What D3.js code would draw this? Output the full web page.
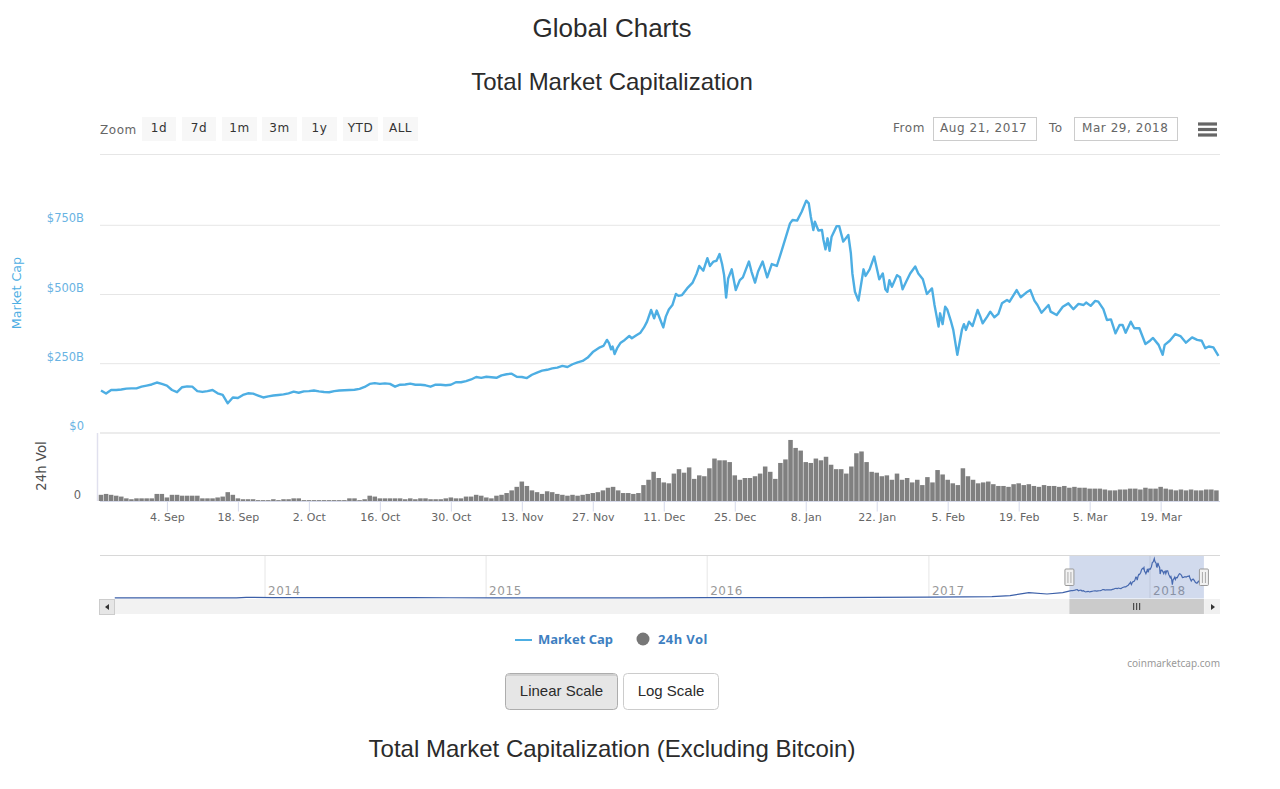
<!DOCTYPE html>
<html>
<head>
<meta charset="utf-8">
<title>Global Charts</title>
<script src="https://cdn.jsdelivr.net/npm/d3@7"></script>
<style>
  html, body { margin: 0; padding: 0; background: #fff; overflow: hidden; }
  text { font-family: "DejaVu Sans", sans-serif; }
  .head { font-family: "Liberation Sans", Arial, sans-serif; fill: #2b2b2b; text-anchor: middle; }
  .spaced { letter-spacing: 0.55px; }
</style>
</head>
<body>
<svg id="page" width="1280" height="789"></svg>
<script>
// market cap in $B, one value per day starting 22 Aug 2017 (calm part, up to 26 Nov)
const capDaily = [153,142,155,155,157,160,161,161,167,171,175,182,177,171,155,147,165,168,167,151,
  148,151,155,143,137,107,128,126,137,143,142,135,128,132,135,137,139,143,149,145,
  150,151,153,150,148,147,151,153,154,155,156,159,166,177,180,177,179,177,167,174,
  175,178,174,174,172,167,174,174,172,174,183,183,187,193,202,199,203,201,199,208,
  212,214,203,202,198,210,218,225,228,233,236,242,238,248,255,260,272,292];

// after that the line gets jumpy, so turning points only: days since 22 Aug and $B
const capDays = [98.4,99.1,99.8,100.2,100.6,100.9,101.3,101.8,102.5,103.3,104.2,104.7,105.6,106.4,107.1,107.7,108.5,109.1,109.6,110.2,
  110.9,111.4,112,112.7,113.4,113.9,114.6,115.6,116.7,117.5,118,118.8,119.6,120.1,120.8,121.4,122,122.5,122.9,123.3,
  123.7,124.4,125.2,126,126.6,127.2,127.8,128.3,129,129.6,130.5,131.4,132.3,133.3,134.3,135.1,135.9,136.4,137.3,138.2,
  139.1,139.6,140,140.5,140.8,141.5,142.2,142.5,142.9,143.3,143.7,144.1,145.1,145.6,146.4,147.4,147.9,148.2,148.7,149.4,
  150.4,150.8,151.6,152.5,153.5,154.2,154.7,155.1,155.5,156,157,157.6,158.1,158.8,159.6,160.6,161.2,162.1,162.9,163.9,
  164.4,165.2,165.5,166,166.5,166.9,167.6,168.1,168.9,169.8,170.2,170.6,171.2,171.9,172.9,173.4,173.9,174.8,175.4,176.2,
  177,177.7,178.7,179.2,180.6,181.4,182.5,183.3,184.1,184.7,185.5,186.9,187.3,188.5,189.7,190.8,191.8,192.8,193.8,194.3,
  195.2,196.1,196.7,197.7,198.4,199.2,200.1,200.9,201.5,202.1,203.1,203.8,204.8,206,206.9,207.5,208.6,209.4,209.8,210.8,
  211.9,212.9,214,215.2,216.2,217.1,217.8,218.5,219.4,220.4];
const capValues = [309,314,336,324,302,312,285,306,326,336,350,342,353,362,381,402,444,414,442,414,
  381,420,446,462,502,495,498,522,543,576,603,586,631,603,619,622,646,610,570,489,
  558,591,516,552,562,591,619,583,543,583,619,562,610,603,661,709,757,769,767,799,
  839,829,781,733,763,731,733,697,663,703,658,709,747,747,691,715,649,576,510,478,
  591,567,591,637,555,576,519,510,552,528,570,562,519,546,576,601,576,555,502,522,
  462,384,432,393,456,446,406,372,282,372,393,372,402,386,444,422,396,420,438,418,
  430,468,480,474,516,490,507,516,478,462,434,462,438,426,456,468,447,466,462,471,
  459,477,474,447,408,410,360,390,390,362,402,378,378,321,333,343,318,282,318,333,
  357,350,326,345,336,333,306,312,309,278];

// 24h volume in $B, one bar per day starting 22 Aug 2017
const volValues = [7,8,7,6,5,3,2,3,3,3,3,8,8,4,7,7,6,6,6,6,
  3,3,3,4,5,10,7,3,2,2,2,1,1,1,2,1,2,2,3,3,
  1,1,1,1,1,1,1,1,1,3,3,1,2,6,5,3,3,3,3,3,
  2,3,2,3,3,2,2,2,3,4,3,3,5,5,7,6,4,3,6,7,
  9,12,16,22,17,12,10,8,11,10,8,7,6,7,6,7,8,9,10,12,
  15,16,12,9,9,8,9,18,24,33,26,21,20,31,36,32,38,25,29,28,
  37,48,46,46,44,29,24,26,26,28,31,39,33,25,43,47,69,60,57,44,
  43,48,46,50,41,36,36,31,39,54,56,44,33,32,28,29,24,31,24,26,
  21,24,18,27,21,35,30,24,20,18,37,28,24,20,21,22,19,17,17,16,
  19,20,18,19,17,16,18,17,17,16,17,15,16,15,15,14,14,14,13,12,
  12,13,13,14,14,13,15,14,14,16,14,13,12,13,12,13,12,12,13,13,12];

// whole history for the navigator, before the selected range
const navEarlyDates = ["2013-04-28","2013-06-15","2013-08-15","2013-10-15","2013-11-15","2013-12-01","2014-01-15","2014-03-01","2014-05-01","2014-07-01","2014-09-01","2014-11-01",
  "2015-01-15","2015-04-01","2015-07-01","2015-10-01","2016-01-01","2016-04-01","2016-07-01","2016-10-01","2017-01-01","2017-03-01","2017-04-15","2017-05-15","2017-06-15","2017-07-15","2017-08-10"];
const navEarlyValues = [1.5,1.2,1.4,2,4,12,10,9,6,8,7,5,4,4,4,4,7,8,10,12,18,25,30,50,114,85,115];

const yearTicks = ["2014","2015","2016","2017","2018"];
const dateTicks = ["2017-09-04","2017-09-18","2017-10-02","2017-10-16","2017-10-30","2017-11-13","2017-11-27","2017-12-11","2017-12-25","2018-01-08","2018-01-22","2018-02-05","2018-02-19","2018-03-05","2018-03-19"];
const capTicks = [0,250,500,750];
const zoomButtons = [["1d",142,34],["7d",182,34],["1m",222,35],["3m",262,35],["1y",302,35],["YTD",343,35],["ALL",383,35]];

const capColor = "#4daee3", volColor = "#808080", gridColor = "#e6e6e6";
const startDay = Date.UTC(2017,7,22), dayMs = 864e5;
const dayToDate = d => new Date(startDay + d*dayMs);

const capSeries = capDaily.map((v,i) => ({date: dayToDate(i), value: v}))
  .concat(capDays.map((d,i) => ({date: dayToDate(d), value: capValues[i]})));
const volSeries = volValues.map((v,i) => ({date: dayToDate(i), value: v}));
const navSeries = navEarlyDates.map((d,i) => ({date: new Date(d), value: navEarlyValues[i]}))
  .concat(capSeries.filter((d,i) => i%2 == 0));

const svg = d3.select("#page");

// scales
const x = d3.scaleUtc().domain([new Date(startDay), new Date(Date.UTC(2018,2,30,17))]).range([101,1220]);
const yCap = d3.scaleLinear().domain([0,750]).range([432.9,225.3]);
const yVol = d3.scaleLinear().domain([0,78]).range([501,432]);
const xNav = d3.scaleUtc().domain([new Date("2014-01-01"), new Date("2018-01-01")]).range([265,1150]);
const yNav = d3.scaleLinear().domain([0,840]).range([598,558.5]);

// titles
svg.append("text").attr("class","head").attr("x",612).attr("y",37).attr("font-size",26).text("Global Charts");
svg.append("text").attr("class","head").attr("x",612).attr("y",90).attr("font-size",24).text("Total Market Capitalization");
svg.append("text").attr("class","head").attr("x",612).attr("y",757).attr("font-size",24).text("Total Market Capitalization (Excluding Bitcoin)");

// range selector
svg.append("text").attr("class","spaced").attr("x",100).attr("y",134).attr("font-size",12).attr("fill","#666").text("Zoom");
zoomButtons.forEach(b => {
  svg.append("rect").attr("x",b[1]).attr("y",117).attr("width",b[2]).attr("height",24).attr("fill","#f7f7f7");
  svg.append("text").attr("class","spaced").attr("x",b[1]+b[2]/2).attr("y",132).attr("text-anchor","middle").attr("font-size",12).attr("fill","#333").text(b[0]);
});
svg.append("text").attr("class","spaced").attr("x",893).attr("y",132).attr("font-size",12).attr("fill","#666").text("From");
svg.append("rect").attr("x",933.5).attr("y",117.5).attr("width",103).attr("height",23).attr("fill","#fff").attr("stroke","#ccc");
svg.append("text").attr("class","spaced").attr("x",940).attr("y",132).attr("font-size",12).attr("fill","#666").text("Aug 21, 2017");
svg.append("text").attr("class","spaced").attr("x",1049).attr("y",132).attr("font-size",12).attr("fill","#666").text("To");
svg.append("rect").attr("x",1074.5).attr("y",117.5).attr("width",103).attr("height",23).attr("fill","#fff").attr("stroke","#ccc");
svg.append("text").attr("class","spaced").attr("x",1082).attr("y",132).attr("font-size",12).attr("fill","#666").text("Mar 29, 2018");
[124,129.5,135].forEach(y => {
  svg.append("line").attr("x1",1198).attr("x2",1217).attr("y1",y).attr("y2",y)
    .attr("stroke","#666").attr("stroke-width",3.2);
});

// grid
svg.append("line").attr("x1",100).attr("x2",1220).attr("y1",154.5).attr("y2",154.5).attr("stroke",gridColor);
capTicks.forEach(t => {
  svg.append("line").attr("x1",100).attr("x2",1220).attr("y1",yCap(t)).attr("y2",yCap(t)).attr("stroke",gridColor).attr("stroke-width",t == 0 ? 1.5 : 1);
});

// y axis labels
const capAxis = svg.append("g").attr("transform","translate(84,0)")
  .call(d3.axisLeft(yCap).tickValues(capTicks).tickSize(0).tickFormat(d => d == 0 ? "$0" : "$"+d+"B"));
capAxis.select(".domain").remove();
capAxis.selectAll("text").attr("x",0).attr("dy",-3.5).attr("font-size",11.5).attr("fill","#69b3e3").style("font-family",'"DejaVu Sans"');
const volAxis = svg.append("g").attr("transform","translate(81,0)")
  .call(d3.axisLeft(yVol).tickValues([0]).tickSize(0));
volAxis.select(".domain").remove();
volAxis.selectAll("text").attr("x",0).attr("dy",-3).attr("font-size",11.5).attr("fill","#666").style("font-family",'"DejaVu Sans"');

svg.append("text").attr("transform","translate(20.5,293) rotate(-90)").attr("text-anchor","middle")
  .attr("font-size",12.7).attr("fill",capColor).text("Market Cap");
svg.append("text").attr("transform","translate(46,466) rotate(-90)").attr("text-anchor","middle")
  .attr("font-size",13.3).attr("fill","#4f4f4f").text("24h Vol");

// volume pane
svg.append("line").attr("x1",97.5).attr("x2",97.5).attr("y1",433).attr("y2",501).attr("stroke","#e0e0ee").attr("stroke-width",1.5);
const barWidth = (x(dayToDate(1)) - x(dayToDate(0))) - 0.55;
svg.append("g").selectAll("rect").data(volSeries).join("rect")
  .attr("x", d => x(d.date) - barWidth/2)
  .attr("y", d => yVol(d.value))
  .attr("width", barWidth)
  .attr("height", d => yVol(0) - yVol(d.value))
  .attr("fill", volColor);

const xAxis = svg.append("g").attr("transform","translate(0,501.5)")
  .call(d3.axisBottom(x).tickValues(dateTicks.map(d => new Date(d))).tickSize(10).tickFormat(d3.utcFormat("%-d. %b")));
xAxis.select(".domain").attr("d","M100,0H1220").attr("stroke","#d5d9ea");
xAxis.selectAll("line").attr("stroke","#d5d9ea");
xAxis.selectAll("text").attr("y",12).attr("font-size",11).attr("fill","#666").style("font-family",'"DejaVu Sans"');

// market cap line
const capLine = d3.line().x(d => x(d.date)).y(d => yCap(d.value));
svg.append("path").datum(capSeries).attr("d",capLine)
  .attr("fill","none").attr("stroke",capColor).attr("stroke-width",2.4).attr("stroke-linejoin","round");

// navigator
svg.append("line").attr("x1",100).attr("x2",1220).attr("y1",555.5).attr("y2",555.5).attr("stroke","#d8d8d8");
yearTicks.forEach(yr => {
  const tx = xNav(new Date(yr+"-01-01"));
  svg.append("line").attr("x1",tx).attr("x2",tx).attr("y1",556).attr("y2",598).attr("stroke",gridColor);
  svg.append("text").attr("class","spaced").attr("x",tx+3).attr("y",595).attr("font-size",12).attr("fill","#999").text(yr);
});
const navLine = d3.line().x(d => xNav(d.date)).y(d => yNav(d.value));
svg.append("path").datum(navSeries).attr("d",navLine)
  .attr("fill","none").attr("stroke","#3b5fa8").attr("stroke-width",1.2);
// mask runs to the end of the data, a little past the "To" date
const maskL = xNav(new Date("2017-08-21")), maskR = xNav(new Date("2018-03-31"));
svg.append("rect").attr("x",maskL).attr("y",556).attr("width",maskR-maskL).attr("height",42.5).attr("fill","rgba(102,133,194,0.3)");

// scrollbar
svg.append("rect").attr("x",100).attr("y",599).attr("width",1120).attr("height",15).attr("fill","#f2f2f2");
svg.append("rect").attr("x",maskL).attr("y",599).attr("width",maskR-maskL).attr("height",15).attr("fill","#cbcbcb");
[-3,0,3].forEach(dx => {
  svg.append("line").attr("x1",(maskL+maskR)/2+dx).attr("x2",(maskL+maskR)/2+dx).attr("y1",603).attr("y2",610).attr("stroke","#333");
});
svg.append("rect").attr("x",99.5).attr("y",599.5).attr("width",15).attr("height",15).attr("fill","#e6e6e6").attr("stroke","#ccc");
svg.append("rect").attr("x",1205).attr("y",599).attr("width",15).attr("height",15).attr("fill","#f0f0f0");
svg.append("path").attr("d","M109,604L105,607L109,610Z").attr("fill","#333");
svg.append("path").attr("d","M1211,604L1215,607L1211,610Z").attr("fill","#333");

// navigator handles
[maskL,maskR].forEach(hx => {
  svg.append("rect").attr("x",hx-4.5).attr("y",569).attr("width",9).attr("height",16.5).attr("rx",1).attr("fill","#f2f2f2").attr("stroke","#999");
  [-1.5,1.5].forEach(dx => {
    svg.append("line").attr("x1",hx+dx).attr("x2",hx+dx).attr("y1",572).attr("y2",583).attr("stroke","#aaa");
  });
});

// legend
svg.append("line").attr("x1",515).attr("x2",532).attr("y1",640).attr("y2",640).attr("stroke",capColor).attr("stroke-width",2);
svg.append("text").attr("x",538).attr("y",644).attr("font-size",13).attr("font-weight","bold").attr("fill","#3e7fc1")
  .style("font-family",'"Noto Sans"').text("Market Cap");
svg.append("circle").attr("cx",643).attr("cy",639).attr("r",6.5).attr("fill","#777");
svg.append("text").attr("x",658).attr("y",644).attr("font-size",13).attr("font-weight","bold").attr("fill","#3e7fc1")
  .style("font-family",'"Noto Sans"').style("letter-spacing","0.4px").text("24h Vol");

svg.append("text").attr("x",1220).attr("y",667).attr("text-anchor","end").attr("font-size",10).attr("fill","#999")
  .style("font-family",'"Noto Sans"').text("coinmarketcap.com");

// scale buttons
svg.append("rect").attr("x",505.5).attr("y",673.5).attr("width",112).attr("height",36).attr("rx",4).attr("fill","#e6e6e6").attr("stroke","#adadad");
svg.append("path").attr("d","M507,675H616").attr("stroke","#d0d0d0").attr("stroke-width",2).attr("fill","none");
svg.append("text").attr("class","head").attr("x",561.5).attr("y",696).attr("font-size",15).text("Linear Scale");
svg.append("rect").attr("x",623.5).attr("y",673.5).attr("width",95).attr("height",36).attr("rx",4).attr("fill","#fff").attr("stroke","#ccc");
svg.append("text").attr("class","head").attr("x",671).attr("y",696).attr("font-size",15).text("Log Scale");
</script>
</body>
</html>
